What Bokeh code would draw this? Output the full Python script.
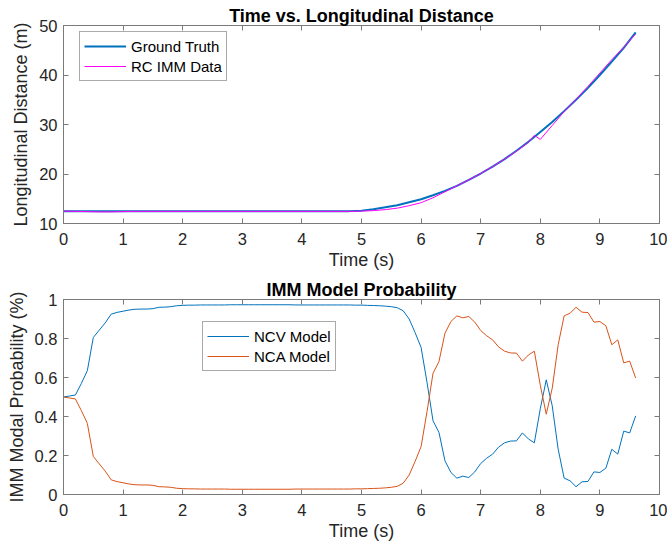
from bokeh.plotting import figure
from bokeh.models import (LinearAxis, Range1d, Legend, LegendItem, FixedTicker,
                          CustomJSTickFormatter)
from bokeh.layouts import column
from bokeh.embed import file_html
from bokeh.resources import INLINE

# ---------------- data ----------------
gt_time = [round(0.2 * i, 1) for i in range(49)]
gt_dist = [12.5] * 25 + [12.6, 12.9, 13.3, 13.7, 14.3, 14.9, 15.7, 16.6, 17.6, 18.8,
                         20.1, 21.5, 23.0, 24.7, 26.5, 28.5, 30.5, 32.7, 35.0, 37.4,
                         40.0, 42.7, 45.5, 48.6]

rc_time = [0.0, 0.2, 0.4, 0.6, 0.8, 1.0, 1.2, 1.4, 1.6, 1.8, 2.0, 2.2, 2.4, 2.6, 2.8,
           3.0, 3.2, 3.4, 3.6, 3.8, 4.0, 4.2, 4.4, 4.6, 4.8, 5.0, 5.2, 5.4, 5.6, 5.8,
           6.0, 6.2, 6.4, 6.6, 6.8, 7.0, 7.2, 7.4, 7.6, 7.8, 7.9, 8.0, 8.2, 8.4, 8.6,
           8.8, 9.0, 9.2, 9.4, 9.6]
rc_dist = [12.5, 12.45, 12.4, 12.35, 12.35, 12.4, 12.45, 12.45, 12.45, 12.45, 12.45,
           12.45, 12.45, 12.45, 12.45, 12.45, 12.45, 12.45, 12.45, 12.45, 12.45, 12.45,
           12.45, 12.45, 12.45, 12.5, 12.6, 12.8, 13.1, 13.6, 14.2, 15.2, 16.4, 17.6,
           18.8, 20.1, 21.5, 23.0, 24.6, 26.4, 27.8, 27.0, 29.8, 32.6, 35.1, 37.7,
           40.4, 43.1, 45.6, 48.3]

prob_time = [round(0.1 * i, 1) for i in range(97)]
ncv_prob = [0.500, 0.505, 0.510, 0.570, 0.635, 0.805, 0.843, 0.880, 0.925, 0.934,
            0.940, 0.946, 0.950, 0.951, 0.951, 0.953, 0.960, 0.961, 0.963, 0.968,
            0.970, 0.971, 0.971, 0.972, 0.972, 0.972, 0.972, 0.972, 0.973, 0.973,
            0.973, 0.973, 0.973, 0.973, 0.973, 0.973, 0.973, 0.973, 0.973, 0.972,
            0.972, 0.972, 0.972, 0.972, 0.972, 0.972, 0.972, 0.972, 0.972, 0.971,
            0.971, 0.970, 0.969, 0.968, 0.966, 0.963, 0.958, 0.942, 0.900, 0.830,
            0.754, 0.574, 0.378, 0.318, 0.173, 0.113, 0.084, 0.094, 0.087, 0.116,
            0.159, 0.186, 0.207, 0.243, 0.265, 0.274, 0.275, 0.316, 0.285, 0.265,
            0.440, 0.588, 0.455, 0.232, 0.084, 0.070, 0.040, 0.065, 0.067, 0.116,
            0.113, 0.135, 0.232, 0.207, 0.325, 0.316, 0.403]
nca_prob = [0.500, 0.495, 0.490, 0.430, 0.365, 0.195, 0.157, 0.120, 0.075, 0.066,
            0.060, 0.054, 0.050, 0.049, 0.049, 0.047, 0.040, 0.039, 0.037, 0.032,
            0.030, 0.029, 0.029, 0.028, 0.028, 0.028, 0.028, 0.028, 0.027, 0.027,
            0.027, 0.027, 0.027, 0.027, 0.027, 0.027, 0.027, 0.027, 0.027, 0.028,
            0.028, 0.028, 0.028, 0.028, 0.028, 0.028, 0.028, 0.028, 0.028, 0.029,
            0.029, 0.030, 0.031, 0.032, 0.034, 0.037, 0.042, 0.058, 0.100, 0.170,
            0.246, 0.426, 0.622, 0.682, 0.827, 0.887, 0.916, 0.906, 0.913, 0.884,
            0.841, 0.814, 0.793, 0.757, 0.735, 0.726, 0.725, 0.684, 0.715, 0.735,
            0.560, 0.412, 0.545, 0.768, 0.916, 0.930, 0.960, 0.935, 0.933, 0.884,
            0.887, 0.865, 0.768, 0.793, 0.675, 0.684, 0.597]

x_ticks = list(range(11))
top_yticks = [10, 20, 30, 40, 50]
bot_yticks = [0, 0.2, 0.4, 0.6, 0.8, 1]

FONT = "Liberation Sans"
AX_COL = "#7a7a7a"
TXT_COL = "#262626"


def make_fig(height, b_top, b_bottom, yr, yticks, title, ylabel):
    p = figure(width=667, height=height, output_backend="svg", toolbar_location=None,
               x_range=Range1d(0, 10), y_range=Range1d(*yr),
               min_border_left=63, min_border_right=8,
               min_border_top=b_top, min_border_bottom=b_bottom)
    p.title.text = title
    p.title.align = "center"
    p.title.text_font = FONT
    p.title.text_font_size = "18px"
    p.title.text_font_style = "bold"
    p.title.text_color = "black"
    p.title.standoff = 0
    p.xgrid.visible = False
    p.ygrid.visible = False
    p.outline_line_color = AX_COL
    p.outline_line_width = 1
    p.background_fill_color = "white"
    p.border_fill_color = "white"

    for ax, ticks in ((p.xaxis[0], x_ticks), (p.yaxis[0], yticks)):
        ax.ticker = FixedTicker(ticks=ticks)
        ax.major_tick_in = 5
        ax.major_tick_out = 0
        ax.minor_tick_line_color = None
        ax.axis_line_color = AX_COL
        ax.major_tick_line_color = AX_COL
        ax.major_label_text_font = FONT
        ax.major_label_text_font_size = "16.5px"
        ax.major_label_text_color = TXT_COL
        ax.axis_label_text_font = FONT
        ax.axis_label_text_font_size = "18px"
        ax.axis_label_text_font_style = "normal"
        ax.axis_label_text_color = TXT_COL
    p.xaxis[0].axis_label = "Time (s)"
    p.xaxis[0].major_label_standoff = 9
    p.xaxis[0].axis_label_standoff = 2
    p.yaxis[0].axis_label = ylabel
    p.yaxis[0].major_label_standoff = 6
    p.yaxis[0].axis_label_standoff = 5

    for loc, ticks in (("above", x_ticks), ("right", yticks)):
        ax = LinearAxis(ticker=FixedTicker(ticks=ticks),
                        formatter=CustomJSTickFormatter(code="return ''"),
                        major_tick_in=5, major_tick_out=0, major_label_standoff=0,
                        minor_tick_line_color=None, axis_line_color=AX_COL,
                        major_tick_line_color=AX_COL)
        p.add_layout(ax, loc)
    return p


p1 = make_fig(272, 25, 47, (10, 50), top_yticks,
              "Time vs. Longitudinal Distance", "Longitudinal Distance (m)")
r_gt = p1.line(gt_time, gt_dist, line_color="#0072BD", line_width=2)
r_rc = p1.line(rc_time, rc_dist, line_color="#FF00FF", line_width=1)

p2 = make_fig(273, 27, 51, (0, 1), bot_yticks,
              "IMM Model Probability", "IMM Modal Probability (%)")
r_ncv = p2.line(prob_time, ncv_prob, line_color="#0072BD", line_width=1)
r_nca = p2.line(prob_time, nca_prob, line_color="#D95319", line_width=1)


def add_legend(p, items, loc):
    lg = Legend(items=[LegendItem(label=l, renderers=[r]) for l, r in items],
                location=loc, orientation="vertical")
    lg.label_text_font = FONT
    lg.label_text_font_size = "15px"
    lg.label_text_color = "black"
    lg.border_line_color = "#555555"
    lg.border_line_width = 1
    lg.background_fill_color = "white"
    lg.background_fill_alpha = 1
    lg.padding = 4
    lg.spacing = 0
    lg.margin = 0
    lg.label_height = 20
    lg.glyph_height = 20
    lg.glyph_width = 42
    lg.label_standoff = 5
    p.add_layout(lg, "center")


add_legend(p1, [("Ground Truth", r_gt), ("RC IMM Data", r_rc)], (16, 142))
add_legend(p2, [("NCV Model", r_ncv), ("NCA Model", r_nca)], (139, 123))

layout = column(p1, p2, spacing=0)
open("out.html", "w").write(file_html(layout, INLINE))
